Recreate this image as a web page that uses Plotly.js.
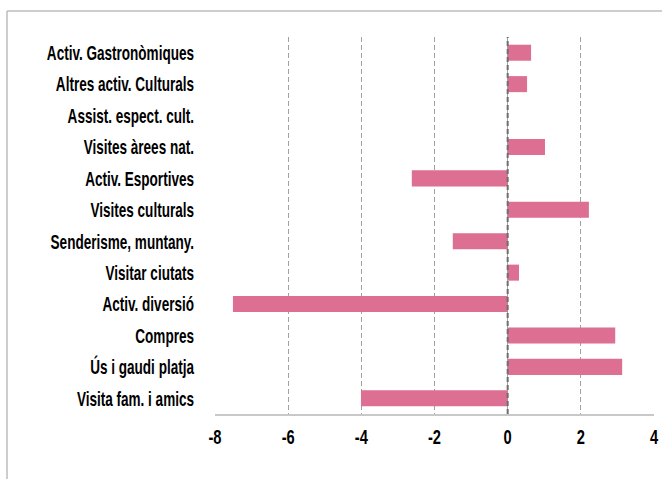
<!DOCTYPE html>
<html>
<head>
<meta charset="utf-8">
<script src="https://cdn.plot.ly/plotly-3.0.1.min.js"></script>
<style>
html,body{margin:0;padding:0;background:#fff;}
#chart{width:663px;height:479px;}
</style>
</head>
<body>
<div id="chart"></div>
<script>
// Categories listed top to bottom
const categories = [
  "Activ. Gastronòmiques",
  "Altres activ. Culturals",
  "Assist. espect. cult.",
  "Visites àrees nat.",
  "Activ. Esportives",
  "Visites culturals",
  "Senderisme, muntany.",
  "Visitar ciutats",
  "Activ. diversió",
  "Compres",
  "Ús i gaudi platja",
  "Visita fam. i amics"
];
const values = [0.64, 0.53, 0, 1.02, -2.62, 2.22, -1.5, 0.31, -7.51, 2.94, 3.13, -4.01];
const xTicks = [-8, -6, -4, -2, 0, 2, 4];

const W = 663, H = 479;
const m = {l: 215, r: 9, t: 37, b: 65};
const pw = W - m.l - m.r, ph = H - m.t - m.b;
const px = x => (x - m.l) / pw;
const py = y => (H - m.b - y) / ph;

const FONT = '"Liberation Sans", Arial, sans-serif';

const trace = {
  type: 'bar',
  orientation: 'h',
  y: categories,
  x: values,
  marker: {color: '#dc6f92'},
  width: 0.51,
  hoverinfo: 'x+y'
};

const layout = {
  width: W, height: H,
  margin: m,
  paper_bgcolor: '#fff',
  plot_bgcolor: '#fff',
  showlegend: false,
  font: {family: FONT, size: 21, color: '#000', weight: 'bold'},
  xaxis: {
    range: [-8, 4],
    tickvals: xTicks,
    ticktext: xTicks.map(String),
    showgrid: true,
    gridcolor: '#a0a0a0',
    gridwidth: 1,
    griddash: '5px,3px',
    zeroline: false,
    showline: true,
    linecolor: '#c8c8c8',
    linewidth: 1.5,
    ticks: '',
    ticklabelstandoff: 3,
    tickfont: {family: FONT, size: 21, color: '#000', weight: 'bold'},
    fixedrange: true
  },
  yaxis: {
    type: 'category',
    categoryorder: 'array',
    categoryarray: categories,
    autorange: 'reversed',
    showgrid: false,
    zeroline: false,
    showline: false,
    ticks: '',
    ticklabelstandoff: 20,
    tickfont: {family: FONT, size: 21, color: '#000', weight: 'bold'},
    fixedrange: true
  },
  shapes: [
    {type: 'line', xref: 'x', yref: 'paper', x0: 0, x1: 0, y0: 0, y1: 1,
     line: {color: '#6e6e6e', width: 2, dash: '5px,3px'}},
    {type: 'line', xref: 'paper', yref: 'paper', x0: px(7), x1: px(7), y0: py(11), y1: py(479),
     line: {color: '#bdbdbd', width: 1.5}},
    {type: 'line', xref: 'paper', yref: 'paper', x0: px(7), x1: px(662), y0: py(11), y1: py(11),
     line: {color: '#bdbdbd', width: 1.5}}
  ]
};

const Y_SCALE = 0.645, X_SCALE = 0.7;

function condense() {
  const apply = (sel, s) => {
    document.querySelectorAll(sel).forEach(t => {
      const tr = t.getAttribute('transform') || '';
      if (tr.indexOf('scale(') !== -1) return;
      const x = parseFloat(t.getAttribute('x') || '0');
      t.setAttribute('transform', tr + ' translate(' + x + ',0) scale(' + s + ',1) translate(' + (-x) + ',0)');
    });
  };
  apply('g.ytick text', Y_SCALE);
  apply('g.xtick text', X_SCALE);
}

const gd = document.getElementById('chart');
Plotly.newPlot(gd, [trace], layout, {displayModeBar: false, staticPlot: true}).then(() => {
  condense();
  gd.on('plotly_afterplot', condense);
  setTimeout(condense, 50);
  setTimeout(condense, 300);
});
</script>
</body>
</html>
